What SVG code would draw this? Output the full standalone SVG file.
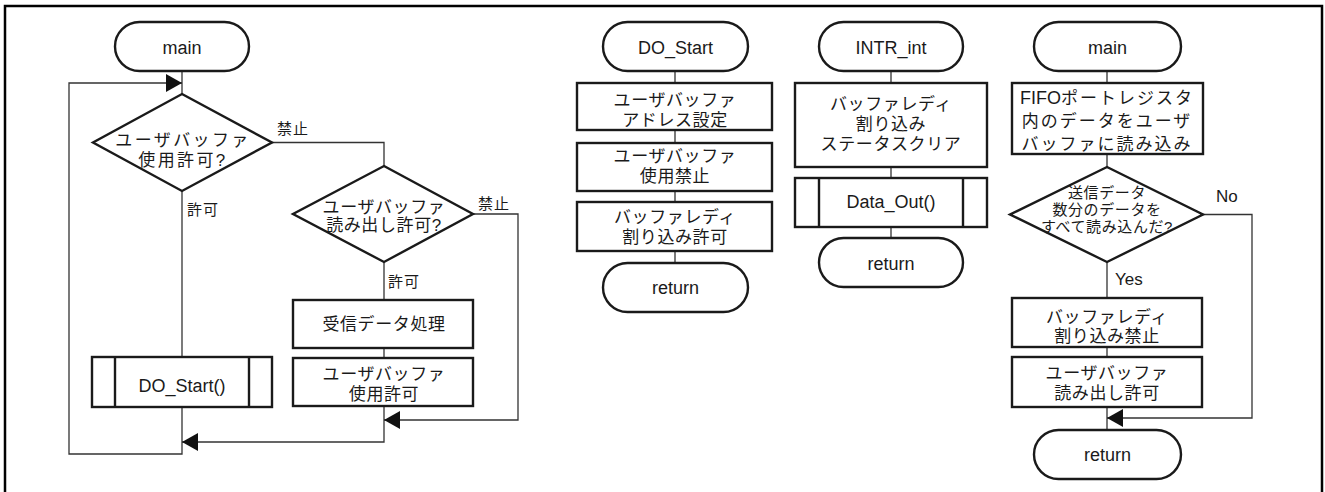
<svg xmlns="http://www.w3.org/2000/svg" width="1325" height="492" viewBox="0 0 1325 492">
  <style>
    .frame { fill: #fff; stroke: #000; stroke-width: 2.5; }
    .term, .box, .dec, .sub { fill: #fff; stroke: #1a1a1a; stroke-width: 2.4; }
    .sub-line { stroke: #1a1a1a; stroke-width: 2.4; }
    .conn { fill: none; stroke: #333; stroke-width: 1.3; }
    text { font-family: "Liberation Sans", "Noto Sans CJK JP", sans-serif; fill: #1a1a1a; text-anchor: middle; }
    .lat { font-size: 18px; }
    .jp { font-size: 17px; letter-spacing: 0.6px; }
    .jpw { font-size: 17px; letter-spacing: 2.4px; }
    .jps { font-size: 15px; letter-spacing: 0.6px; }
    .lbl { font-size: 15px; text-anchor: start; letter-spacing: 1px; }
    .lbl-lat { font-size: 17px; text-anchor: start; }
    .tight { letter-spacing: 0; font-size: 18px; }
  </style>
  <defs>
    <marker id="arrow" markerUnits="userSpaceOnUse" markerWidth="16" markerHeight="18" viewBox="0 0 16 18" refX="16" refY="9" orient="auto">
      <path d="M0,0 L16,9 L0,18 Z" fill="#111"/>
    </marker>
  </defs>

  <rect class="frame" x="5" y="6" width="1317" height="488"/>

  <!-- connectors -->
  <g id="connectors">
    <!-- main (left) -->
    <path class="conn" d="M182,71 V94"/>
    <path class="conn" d="M182,191 V357"/>
    <path class="conn" d="M182,407 V454 H69 V83 H182" marker-end="url(#arrow)"/>
    <path class="conn" d="M272,142.5 H384 V166"/>
    <path class="conn" d="M384,262 V300"/>
    <path class="conn" d="M384,348 V358"/>
    <path class="conn" d="M384,406 V442 H182" marker-end="url(#arrow)"/>
    <path class="conn" d="M473,214 H518 V420 H384" marker-end="url(#arrow)"/>
    <!-- DO_Start -->
    <path class="conn" d="M675,71 V83 M675,130 V143 M675,191 V202 M675,251 V263"/>
    <!-- INTR_int -->
    <path class="conn" d="M891,71 V83 M891,167 V178 M891,227 V238"/>
    <!-- main (right) -->
    <path class="conn" d="M1107,71 V83 M1107,154 V167 M1107,262 V298 M1107,347 V357 M1107,407 V430"/>
    <path class="conn" d="M1203,214.5 H1252 V418 H1107" marker-end="url(#arrow)"/>
  </g>

  <!-- branch labels -->
  <g id="labels">
    <text class="lbl" x="277" y="134">禁止</text>
    <text class="lbl" x="187" y="215">許可</text>
    <text class="lbl" x="478" y="209">禁止</text>
    <text class="lbl" x="388" y="287">許可</text>
    <text class="lbl-lat" x="1216" y="202">No</text>
    <text class="lbl-lat" x="1115" y="285">Yes</text>
  </g>

  <!-- left flow: main -->
  <g id="main-start">
    <rect class="term" x="115" y="22" width="134" height="49" rx="24.5"/>
    <text class="lat" x="182" y="54">main</text>
  </g>
  <g id="check-use">
    <polygon class="dec" points="182,94 272,142.5 182,191 93,142.5"/>
    <text class="jpw" x="183" y="146">ユーザバッファ</text>
    <text class="jpw" x="183" y="166">使用許可?</text>
  </g>
  <g id="call-do-start">
    <rect class="sub" x="92" y="357" width="180" height="50"/>
    <line class="sub-line" x1="115" y1="357" x2="115" y2="407"/>
    <line class="sub-line" x1="249" y1="357" x2="249" y2="407"/>
    <text class="lat" x="182" y="392">DO_Start()</text>
  </g>
  <g id="check-read">
    <polygon class="dec" points="384,166 473,214 384,262 293,214"/>
    <text class="jp" x="384" y="213">ユーザバッファ</text>
    <text class="jp" x="384" y="231">読み出し許可?</text>
  </g>
  <g id="process-data">
    <rect class="box" x="293" y="300" width="180" height="48"/>
    <text class="jp" x="384" y="330">受信データ処理</text>
  </g>
  <g id="allow-use">
    <rect class="box" x="293" y="358" width="180" height="48"/>
    <text class="jp" x="384" y="380">ユーザバッファ</text>
    <text class="jp" x="384" y="400">使用許可</text>
  </g>

  <!-- DO_Start -->
  <g id="do-start">
    <rect class="term" x="603" y="22" width="145" height="49" rx="24.5"/>
    <text class="lat" x="675.5" y="54">DO_Start</text>
  </g>
  <g id="set-address">
    <rect class="box" x="577" y="83" width="195" height="47"/>
    <text class="jp" x="675" y="106">ユーザバッファ</text>
    <text class="jp" x="675" y="126">アドレス設定</text>
  </g>
  <g id="forbid-use">
    <rect class="box" x="577" y="143" width="195" height="48"/>
    <text class="jp" x="675" y="162">ユーザバッファ</text>
    <text class="jp" x="675" y="182">使用禁止</text>
  </g>
  <g id="enable-ready-int">
    <rect class="box" x="577" y="202" width="195" height="49"/>
    <text class="jp" x="675" y="223">バッファレディ</text>
    <text class="jp" x="675" y="243">割り込み許可</text>
  </g>
  <g id="do-start-return">
    <rect class="term" x="603" y="263" width="145" height="49" rx="24.5"/>
    <text class="lat" x="675.5" y="294">return</text>
  </g>

  <!-- INTR_int -->
  <g id="intr-int">
    <rect class="term" x="819" y="22" width="144" height="49" rx="24.5"/>
    <text class="lat" x="891" y="54">INTR_int</text>
  </g>
  <g id="clear-status">
    <rect class="box" x="795" y="83" width="192" height="84"/>
    <text class="jp" x="891" y="110">バッファレディ</text>
    <text class="jp" x="891" y="130">割り込み</text>
    <text class="jp" x="891" y="150">ステータスクリア</text>
  </g>
  <g id="call-data-out">
    <rect class="sub" x="795" y="178" width="192" height="49"/>
    <line class="sub-line" x1="819" y1="178" x2="819" y2="227"/>
    <line class="sub-line" x1="963" y1="178" x2="963" y2="227"/>
    <text class="lat" x="891" y="208">Data_Out()</text>
  </g>
  <g id="intr-return">
    <rect class="term" x="819" y="238" width="144" height="49" rx="24.5"/>
    <text class="lat" x="891" y="270">return</text>
  </g>

  <!-- right flow: main -->
  <g id="main2-start">
    <rect class="term" x="1034" y="22" width="147" height="49" rx="24.5"/>
    <text class="lat" x="1107.5" y="54">main</text>
  </g>
  <g id="read-fifo">
    <rect class="box" x="1012" y="83" width="191" height="71"/>
    <text class="jpw" x="1107" y="104" style="letter-spacing:2px"><tspan class="tight">FIFO</tspan>ポートレジスタ</text>
    <text class="jpw" x="1107" y="127" style="letter-spacing:2px">内のデータをユーザ</text>
    <text class="jpw" x="1107" y="150" style="letter-spacing:2px">バッファに読み込み</text>
  </g>
  <g id="check-all-read">
    <polygon class="dec" points="1107,167 1203,214.5 1107,262 1010,214.5"/>
    <text class="jps" x="1107" y="198">送信データ</text>
    <text class="jps" x="1107" y="215">数分のデータを</text>
    <text class="jps" x="1107" y="232">すべて読み込んだ?</text>
  </g>
  <g id="disable-ready-int">
    <rect class="box" x="1012" y="298" width="190" height="49"/>
    <text class="jp" x="1107" y="323">バッファレディ</text>
    <text class="jp" x="1107" y="342">割り込み禁止</text>
  </g>
  <g id="allow-read">
    <rect class="box" x="1012" y="357" width="190" height="50"/>
    <text class="jp" x="1107" y="379">ユーザバッファ</text>
    <text class="jp" x="1107" y="399">読み出し許可</text>
  </g>
  <g id="main2-return">
    <rect class="term" x="1034" y="430" width="147" height="49" rx="24.5"/>
    <text class="lat" x="1107.5" y="461">return</text>
  </g>
</svg>
